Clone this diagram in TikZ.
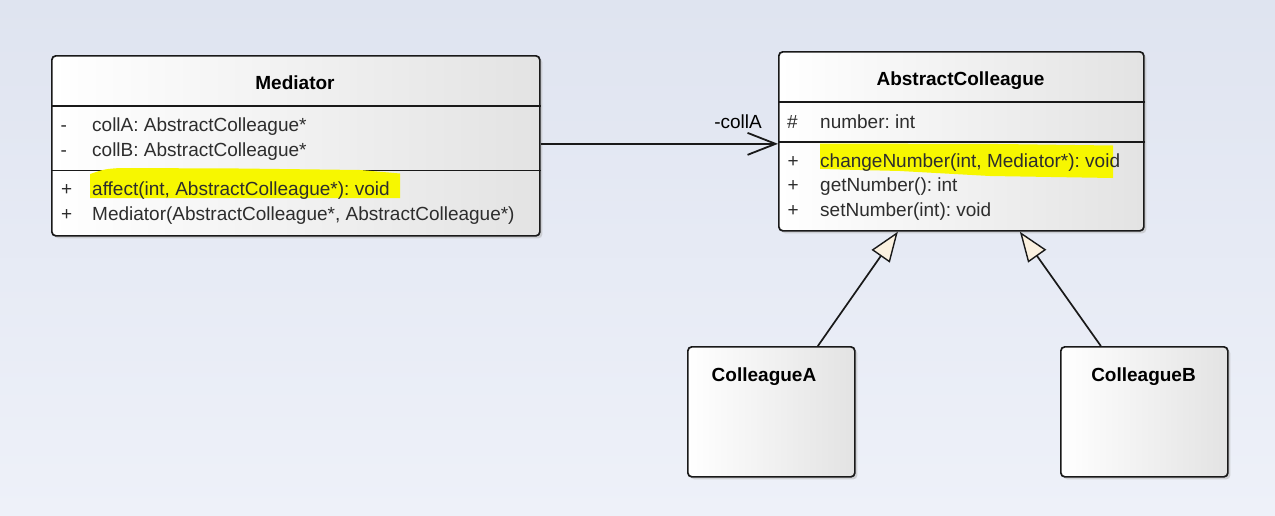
\documentclass[tikz,border=0pt]{standalone}
\usepackage{fontspec}
\setmainfont{Liberation Sans}
\usetikzlibrary{arrows.meta,shadows,calc}
\frenchspacing
\definecolor{bgtop}{RGB}{223,228,240}
\definecolor{bgbot}{RGB}{238,241,249}
\definecolor{hl}{RGB}{247,247,0}
\definecolor{cream}{RGB}{251,241,224}
\definecolor{membertext}{RGB}{45,45,45}
\tikzset{
  umlbox/.style={draw=black!90, line width=1.7pt, rounded corners=4pt,
    left color=white, right color=black!11, anchor=north west, inner sep=0pt,
    drop shadow={shadow xshift=2.5pt, shadow yshift=-2.5pt, fill=black!30, opacity=0.5}},
  sepline/.style={draw=black!90, line width=1.5pt},
  ttl/.style={font=\bfseries\fontsize{19}{22}\selectfont, anchor=base, inner sep=0pt, text=black},
  mem/.style={font=\fontsize{19}{22}\selectfont, anchor=base west, inner sep=0pt, text=membertext},
  assoc/.style={draw=black!90, line width=1.8pt, -{Straight Barb[length=28pt, width=22pt, line width=1.8pt]}},
  gen/.style={draw=black!90, line width=1.7pt, -{Triangle[length=30pt, width=22pt, fill=cream, line width=1.4pt]}},
}
\begin{document}
\begin{tikzpicture}[x=1pt,y=-1pt]
\shade[top color=bgtop, bottom color=bgbot] (0,0) rectangle (1275,515);
\useasboundingbox (0,0) rectangle (1275,515);

% Boxes
\node[umlbox, minimum width=488pt, minimum height=180pt] (med) at (51,55) {};
\node[umlbox, minimum width=365pt, minimum height=179pt] (ac) at (778,51) {};
\node[umlbox, minimum width=167pt, minimum height=130pt] (caA) at (687,346) {};
\node[umlbox, minimum width=167pt, minimum height=130pt] (caB) at (1060,346) {};

% Mediator separators
\draw[sepline] (med.west |- 0,106) -- (med.east |- 0,106);
\draw[sepline] (med.west |- 0,170.5) -- (med.east |- 0,170.5);
% AbstractColleague separators
\draw[sepline] (ac.west |- 0,102) -- (ac.east |- 0,102);
\draw[sepline] (ac.west |- 0,142) -- (ac.east |- 0,142);

% Highlights
\fill[hl] (90,174) .. controls (105,169) .. (120,168) -- (240,168.5) -- (360,170) -- (400,173.5) -- (400,198) -- (90,198) -- cycle;
\fill[hl] (820,143.5) -- (1000,144) -- (1113,145.5) -- (1113,178) -- (990,176) -- (900,171) -- (820,169) -- cycle;

% Mediator text
\node[ttl] (medt) at (295,89.5) {Mediator};
\node[mem] (m1v) at (60.5,131.7) {-};
\node[mem] (m1) at (92,131.7) {collA: AbstractColleague*};
\node[mem] (m2v) at (60.5,156) {-};
\node[mem] (m2) at (92,156) {collB: AbstractColleague*};
\node[mem] (m3v) at (61,195) {+};
\node[mem] (m3) at (92,195) {affect(int, AbstractColleague*): void};
\node[mem] (m4v) at (61,220) {+};
\node[mem] (m4) at (92,220) {Mediator(AbstractColleague*, AbstractColleague*)};

% AbstractColleague text
\node[ttl] (act) at (960.5,85.7) {AbstractColleague};
\node[mem] (a1v) at (787,128.3) {\#};
\node[mem] (a1) at (820,128.3) {number: int};
\node[mem] (a2v) at (787.5,167.3) {+};
\node[mem] (a2) at (820,167.3) {changeNumber(int, Mediator*): void};
\node[mem] (a3v) at (787.5,191.7) {+};
\node[mem] (a3) at (820,191.7) {getNumber(): int};
\node[mem] (a4v) at (787.5,216) {+};
\node[mem] (a4) at (820,216) {setNumber(int): void};

% Colleague titles
\node[ttl] (caAt) at (764,381.7) {ColleagueA};
\node[ttl] (caBt) at (1143.5,381.7) {ColleagueB};

% Association
\draw[assoc] ([yshift=2pt]med.east) -- ([yshift=2pt]med.east -| ac.west);
\node[font=\fontsize{19}{22}\selectfont, anchor=base east, inner sep=0pt, text=black] (lbl) at (762,128.3) {-collA};

% Generalizations
\draw[gen] ([xshift=46.5pt]caA.north) -- ([xshift=-63.5pt]ac.south);
\draw[gen] ([xshift=-43.5pt]caB.north) -- ([xshift=58.5pt]ac.south);
\end{tikzpicture}
\end{document}
